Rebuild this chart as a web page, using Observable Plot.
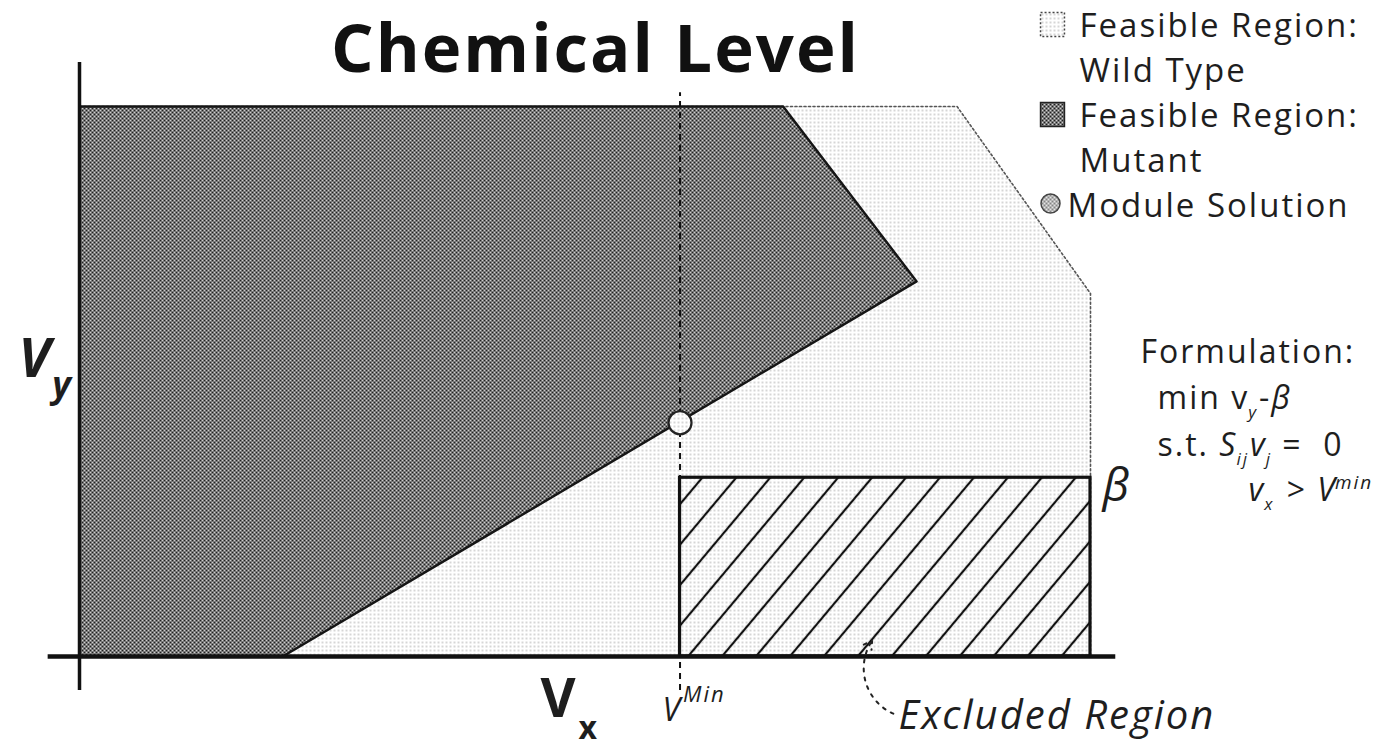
<!DOCTYPE html>
<html><head><meta charset="utf-8">
<script src="https://cdn.jsdelivr.net/npm/d3@7"></script>
<script src="https://cdn.jsdelivr.net/npm/@observablehq/plot@0.6"></script>
<style>html,body{margin:0;padding:0;background:#fff;} #chart svg{display:block}</style>
</head><body><div id="chart"></div>
<script>
// ---- Data (diagram units: vx horizontal, vy vertical) ----
const wildTypeVx = [0, 8.68, 10, 10, 0];
const wildTypeVy = [10, 10, 6.6, 0, 0];
const mutantVx = [0, 6.96, 8.28, 2.01, 0];
const mutantVy = [10, 10, 6.82, 0, 0];
const vMin = 5.94;          // V^Min
const solutionVy = 4.25;    // module solution on the mutant boundary
const beta = 3.25;          // β
const vxMax = 10;           // right limit of the excluded region
const axisVx = [-0.31, 10.25];
const axisVy = [-0.62, 10.8];
const dashedVy = [-0.62, 10.25];
const arrowFrom = [8.05, -1.04];
const arrowTo = [7.84, 0.29];
const titleText = "Chemical Level";
const legendLabels = ["Feasible Region:\nWild Type", "Feasible Region:\nMutant", "Module Solution"];

// ---- Layout / styles ----
const FAMILY = "'Open Sans', 'DejaVu Sans', sans-serif";
const INK = "#1e1e1e";
const LS = 2; // letter spacing (px)
const ctx = document.createElement("canvas").getContext("2d");
function measure(t, size, style = "normal", weight = "normal") {
  ctx.font = `${style} ${weight} ${size}px "Open Sans"`;
  return ctx.measureText(t).width + t.length * LS;
}
function label(t, x, y, o = {}) {
  return Plot.text([t], {
    frameAnchor: "top-left", dx: x, dy: y, text: d => d,
    textAnchor: o.anchor || "start", lineAnchor: "bottom", lineHeight: o.lineHeight || 1,
    fontSize: o.size || 33, fontStyle: o.style || "normal", fontWeight: o.weight || "normal",
    fontFamily: FAMILY, fill: o.fill || INK
  });
}
function rich(x, y, segs, base = {}) {
  const marks = [];
  let cx = x;
  for (const s of segs) {
    const o = {...base, ...s};
    const size = o.size || 33;
    marks.push(label(o.t, cx, y + (o.shift || 0), o));
    cx += measure(o.t, size, o.style || "normal", o.weight || "normal") + (o.gap || 0);
  }
  return marks;
}
const ring = (xs, ys) => xs.map((x, i) => ({x, y: ys[i]})).concat([{x: xs[0], y: ys[0]}]);
const sub = {size: 17, style: "italic", shift: 9};
const LEG = 33, LEG_STEP = 45;

const chart = Plot.plot({
  width: 1395, height: 752,
  marginTop: 0, marginRight: 0, marginBottom: 0, marginLeft: 0,
  x: {domain: [0, 10], range: [79, 1090], axis: null},
  y: {domain: [0, 10], range: [656, 106], axis: null},
  style: {background: "#fff"},
  marks: [
    // Wild type feasible region
    Plot.line(ring(wildTypeVx, wildTypeVy), {x: "x", y: "y", fill: "url(#wtFill)", stroke: "#555", strokeWidth: 1.6, strokeDasharray: "2,2.5"}),
    // Excluded region (hatched)
    Plot.rect([{x1: vMin, x2: vxMax, y1: 0, y2: beta}], {x1: "x1", x2: "x2", y1: "y1", y2: "y2", fill: "url(#hatch)", stroke: "#111", strokeWidth: 3.2}),
    // Mutant feasible region
    Plot.line(ring(mutantVx, mutantVy), {x: "x", y: "y", fill: "url(#mutFill)", stroke: "#151515", strokeWidth: 2.4}),
    // Axes
    Plot.ruleY([{y: 0, x1: axisVx[0], x2: axisVx[1]}], {y: "y", x1: "x1", x2: "x2", stroke: "#111", strokeWidth: 4.5}),
    Plot.ruleX([{x: 0, y1: axisVy[0], y2: axisVy[1]}], {x: "x", y1: "y1", y2: "y2", stroke: "#111", strokeWidth: 3.5}),
    // V^Min dashed line
    Plot.ruleX([{x: vMin, y1: dashedVy[0], y2: dashedVy[1]}], {x: "x", y1: "y1", y2: "y2", stroke: "#111", strokeWidth: 2, strokeDasharray: "6,5"}),
    // Module solution
    Plot.dot([{x: vMin, y: solutionVy}], {x: "x", y: "y", r: 11.5, fill: "url(#wtFill)", stroke: "#222", strokeWidth: 2.2}),
    // Arrow to excluded region
    Plot.arrow([{x1: arrowFrom[0], y1: arrowFrom[1], x2: arrowTo[0], y2: arrowTo[1]}], {x1: "x1", y1: "y1", x2: "x2", y2: "y2", bend: 50, stroke: "#222", strokeWidth: 2, strokeDasharray: "3,6", headLength: 7}),
    // Title
    label(titleText, 595, 71, {size: 67, weight: "bold", anchor: "middle", fill: "#111"}),
    // Legend
    Plot.dot([0], {frameAnchor: "top-left", dx: 1052, dy: 24, symbol: "square", r: 13.5, fill: "url(#wtFill)", stroke: "#444", strokeWidth: 1.5, strokeDasharray: "2,2"}),
    label(legendLabels[0], 1079, 36 + LEG_STEP, {size: LEG, lineHeight: LEG_STEP / LEG}),
    Plot.dot([0], {frameAnchor: "top-left", dx: 1052, dy: 114, symbol: "square", r: 13.5, fill: "url(#mutFill)", stroke: "#222", strokeWidth: 1.5}),
    label(legendLabels[1], 1079, 36 + 3 * LEG_STEP, {size: LEG, lineHeight: LEG_STEP / LEG}),
    Plot.dot([0], {frameAnchor: "top-left", dx: 1050, dy: 203, r: 9.5, fill: "url(#mutFill)", stroke: "#444", strokeWidth: 1.5, fillOpacity: 0.55}),
    label(legendLabels[2], 1067, 36 + 4 * LEG_STEP, {size: LEG}),
    // Formulation
    label("Formulation:", 1140, 362, {size: 32}),
    ...rich(1157, 408, [{t: "min v", size: 32, gap: -1}, {t: "y", ...sub, gap: 1}, {t: "-", size: 32}, {t: "β", size: 32, style: "italic"}]),
    ...rich(1157, 455, [{t: "s.t. ", size: 32}, {t: "S", size: 32, style: "italic", gap: -1}, {t: "ij", ...sub, gap: 1}, {t: "v", size: 32, style: "italic", gap: -1}, {t: "j", ...sub}, {t: " =  0", size: 32}]),
    ...rich(1248, 500, [{t: "v", size: 32, style: "italic", gap: -1}, {t: "x", ...sub, gap: 2}, {t: " > ", size: 32}, {t: "V", size: 32, style: "italic", gap: -2}, {t: "min", size: 19, style: "italic", shift: -12}]),
    // Axis labels
    ...rich(18, 376, [{t: "V", size: 54, style: "italic", weight: "bold", gap: 0}, {t: "y", size: 36, style: "italic", weight: "bold", shift: 20}]),
    ...rich(540, 716, [{t: "V", size: 54, weight: "bold", gap: 1}, {t: "x", size: 32, weight: "bold", shift: 22}]),
    ...rich(662, 720, [{t: "V", size: 32, style: "italic", gap: 1}, {t: "Min", size: 22, style: "italic", shift: -19}]),
    label("β", 1102, 500, {size: 46, style: "italic"}),
    label("Excluded Region", 898, 728, {size: 40, style: "italic"})
  ]
});
d3.select(chart).style("letter-spacing", LS + "px");

// Fill patterns (halftone looks of the original)
const defs = d3.select(chart).insert("defs", ":first-child");
const wt = defs.append("pattern").attr("id", "wtFill").attr("patternUnits", "userSpaceOnUse").attr("width", 4).attr("height", 4);
wt.append("rect").attr("width", 4).attr("height", 4).attr("fill", "#fff");
wt.append("circle").attr("cx", 2).attr("cy", 2).attr("r", 0.72).attr("fill", "#999");
const mut = defs.append("pattern").attr("id", "mutFill").attr("patternUnits", "userSpaceOnUse").attr("width", 4).attr("height", 4);
mut.append("rect").attr("width", 4).attr("height", 4).attr("fill", "#f4f4f4");
for (const [cx, cy] of [[0, 0], [4, 0], [0, 4], [4, 4], [2, 2]]) mut.append("circle").attr("cx", cx).attr("cy", cy).attr("r", 1.18).attr("fill", "#1a1a1a");
const hatch = defs.append("pattern").attr("id", "hatch").attr("patternUnits", "userSpaceOnUse").attr("width", 26).attr("height", 26).attr("patternTransform", "rotate(40)");
hatch.append("line").attr("x1", 13).attr("y1", 0).attr("x2", 13).attr("y2", 26).attr("stroke", "#111").attr("stroke-width", 2.2);

document.getElementById("chart").appendChild(chart);
</script>
</body></html>
